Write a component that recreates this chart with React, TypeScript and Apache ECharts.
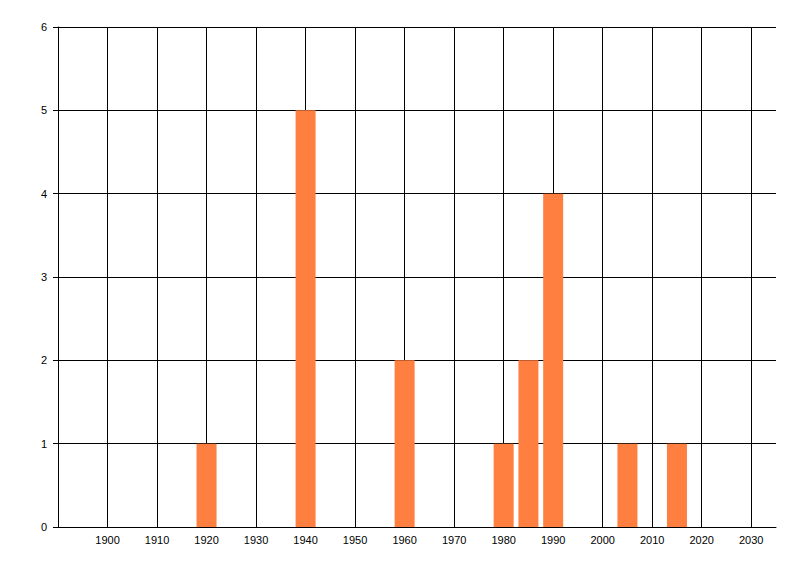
import React, { useEffect, useRef } from 'react';
import * as echarts from 'echarts';

// years (bar centres) and counts
const years = [1920, 1940, 1960, 1980, 1985, 1990, 2005, 2015];
const counts = [1, 5, 2, 1, 2, 4, 1, 1];
const yTicks = [0, 1, 2, 3, 4, 5, 6];

const App = () => {
    const chartRef = useRef<HTMLDivElement>(null);

    useEffect(() => {
        const myChart = echarts.init(chartRef.current, null, { renderer: 'svg' });

        const font = { fontFamily: 'Liberation Sans, Arial, sans-serif', fontSize: 11, color: '#000' };

        const option = {
            animation: false,
            backgroundColor: '#fff',
            grid: { left: 58, right: 24, top: 27, bottom: 49, containLabel: false },
            xAxis: {
                type: 'value',
                min: 1890,
                max: 2035,
                interval: 10,
                axisLine: { show: true, lineStyle: { color: '#000', width: 1 } },
                axisTick: { show: false },
                axisLabel: {
                    ...font,
                    margin: 7,
                    showMinLabel: false,
                    showMaxLabel: false,
                    formatter: (v: number) => (v % 10 === 0 && v > 1890 ? String(v) : ''),
                },
                splitLine: {
                    show: true,
                    showMinLine: false,
                    showMaxLine: false,
                    lineStyle: { color: '#000', width: 1 },
                },
            },
            yAxis: {
                type: 'value',
                min: yTicks[0],
                max: yTicks[yTicks.length - 1],
                interval: 1,
                axisLine: { show: true, lineStyle: { color: '#000', width: 1 } },
                axisTick: { show: true, length: 5, lineStyle: { color: '#000' } },
                axisLabel: { ...font, margin: 11 },
                splitLine: { show: true, lineStyle: { color: '#000', width: 1 } },
            },
            series: [
                {
                    type: 'bar',
                    data: years.map((y, i) => [y, counts[i]]),
                    barWidth: 20,
                    itemStyle: { color: '#FF7F40' },
                    z: 3,
                },
            ],
        };

        myChart.setOption(option);

        return () => {
            myChart.dispose();
        };
    }, []);

    return (
        <div
            ref={chartRef}
            style={{ position: 'fixed', left: 0, top: 0, width: '800px', height: '576px' }}
        />
    );
};

export default App;
